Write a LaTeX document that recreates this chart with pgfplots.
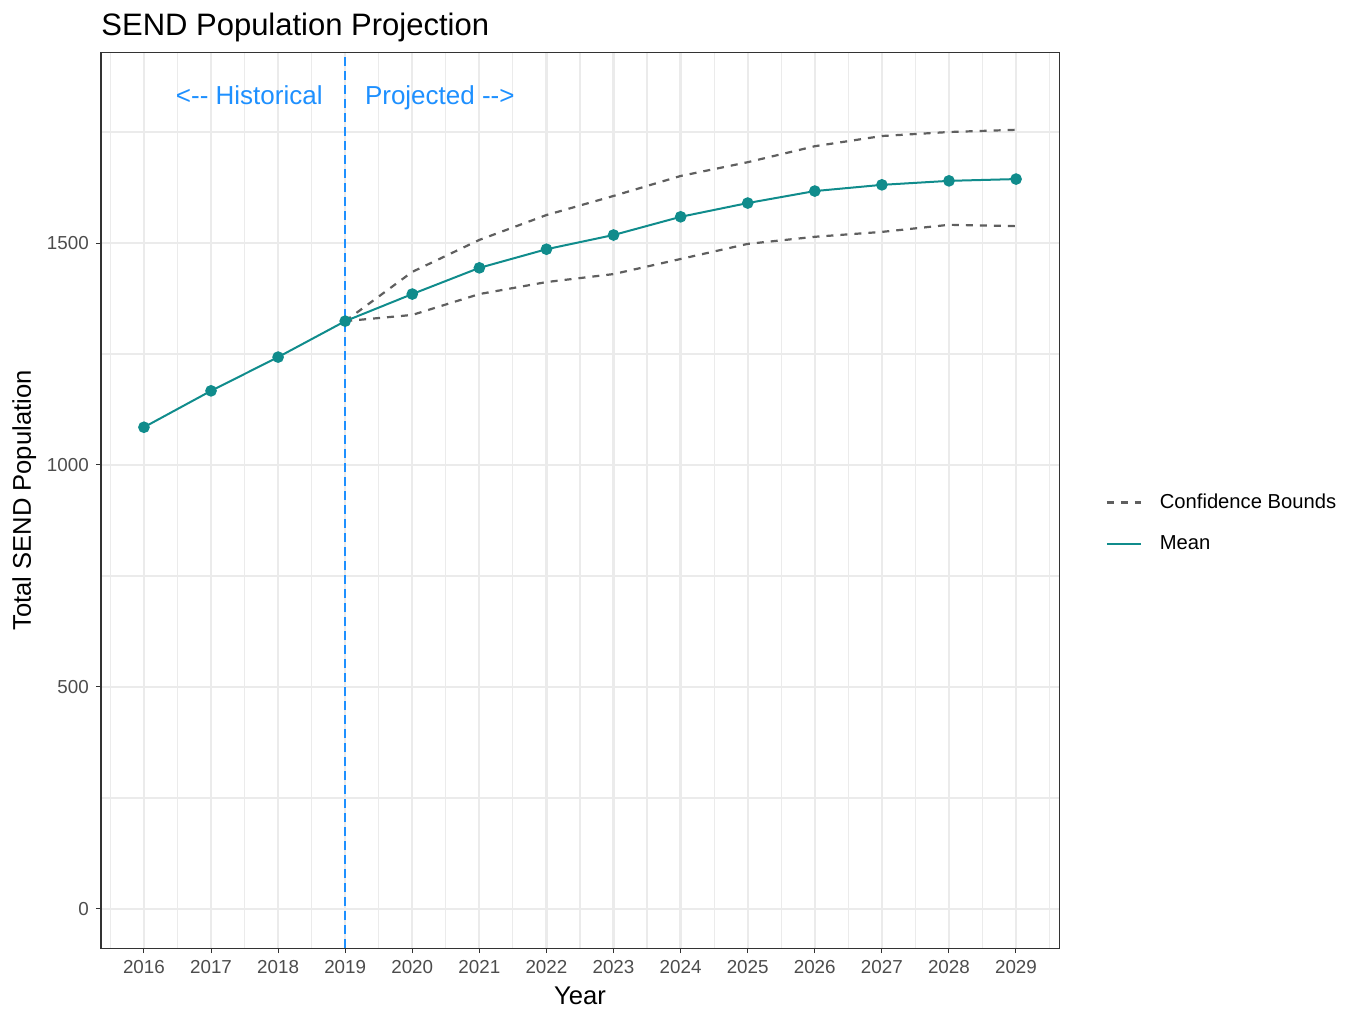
\documentclass[border=0pt]{standalone}
\usepackage{fontspec}
\setmainfont{Liberation Sans}
\usepackage{pgfplots}
\pgfplotsset{compat=1.18}
\definecolor{meancol}{HTML}{108C8C}
\definecolor{boundcol}{HTML}{5F5F5F}
\definecolor{gridmaj}{HTML}{EBEBEB}
\definecolor{annot}{HTML}{1E90FF}
\begin{document}
\begin{tikzpicture}
\begin{axis}[
  scale only axis,
  width=479pt, height=447.5pt,
  xmin=2015.36, xmax=2029.64,
  ymin=-88, ymax=1928,
  xtick={2016,...,2029},
  minor xtick={2015.5,2016.5,...,2029.5},
  ytick={0,500,1000,1500},
  minor ytick={250,750,1250,1750},
  /pgf/number format/assume math mode=true,
  xticklabel style={/pgf/number format/1000 sep={}},
  yticklabel style={/pgf/number format/1000 sep={}},
  ticklabel style={font=\fontsize{9.4}{10}\selectfont, text=black!70},
  tick align=outside,
  major tick length=2.6pt,
  minor tick length=0pt,
  tick style={black!80, line width=0.5pt},
  xtick pos=bottom, ytick pos=left,
  grid=both,
  major grid style={gridmaj, line width=1.1pt},
  minor grid style={gridmaj, line width=0.55pt},
  axis line style={black!80, line width=0.5pt},
  xlabel={Year},
  ylabel={Total SEND Population},
  label style={font=\fontsize{12.8}{14}\selectfont},
  xlabel style={yshift=0pt},
  ylabel style={yshift=-1.5pt},
  legend style={at={(1.042,0.475)}, anchor=west, draw=none, fill=none,
    font=\fontsize{10.1}{12}\selectfont, row sep=8pt,
    /tikz/every odd column/.append style={column sep=7pt}},
  legend cell align=left,
  legend image code/.code={\draw[#1] (0cm,0cm) -- (17pt,0cm);},
  clip=false,
]
% vertical divider
\addplot[annot, line width=0.8pt, dash pattern=on 4.5pt off 2.5pt, forget plot]
  coordinates {(2019,-88) (2019,1928)};
\addplot[boundcol, line width=1.1pt, dash pattern=on 3.5pt off 3.5pt]
  coordinates {(2019,1324) (2020,1435) (2021,1507) (2022,1563) (2023,1606) (2024,1651)
    (2025,1682) (2026,1718) (2027,1741) (2028,1750) (2029,1755)};
\addlegendentry{Confidence Bounds}
\addplot[boundcol, line width=1.1pt, dash pattern=on 3.5pt off 3.5pt, forget plot]
  coordinates {(2019,1324) (2020,1338) (2021,1385) (2022,1412) (2023,1430) (2024,1464)
    (2025,1498) (2026,1514) (2027,1525) (2028,1541) (2029,1538)};
\addplot[meancol, line width=1pt, mark=*, mark size=2.4pt, mark options={solid}]
  coordinates {(2016,1085) (2017,1167) (2018,1243) (2019,1324) (2020,1385) (2021,1444)
    (2022,1486) (2023,1518) (2024,1559) (2025,1590) (2026,1617) (2027,1631)
    (2028,1640) (2029,1644)};
\addlegendentry{Mean}
\node[annot, anchor=base, font=\fontsize{13}{14}\selectfont] at (axis cs:2017.57,1812) {<-{}- Historical};
\node[annot, anchor=base, font=\fontsize{13}{14}\selectfont] at (axis cs:2020.41,1812) {Projected -{}->};
\node[anchor=base west, inner sep=0pt, font=\fontsize{15.5}{16}\selectfont]
  at (rel axis cs:0,1) [yshift=8.5pt] {SEND Population Projection};
\end{axis}
\useasboundingbox (-50.5pt,-32pt) rectangle (625.5pt,474pt);
\end{tikzpicture}
\end{document}
